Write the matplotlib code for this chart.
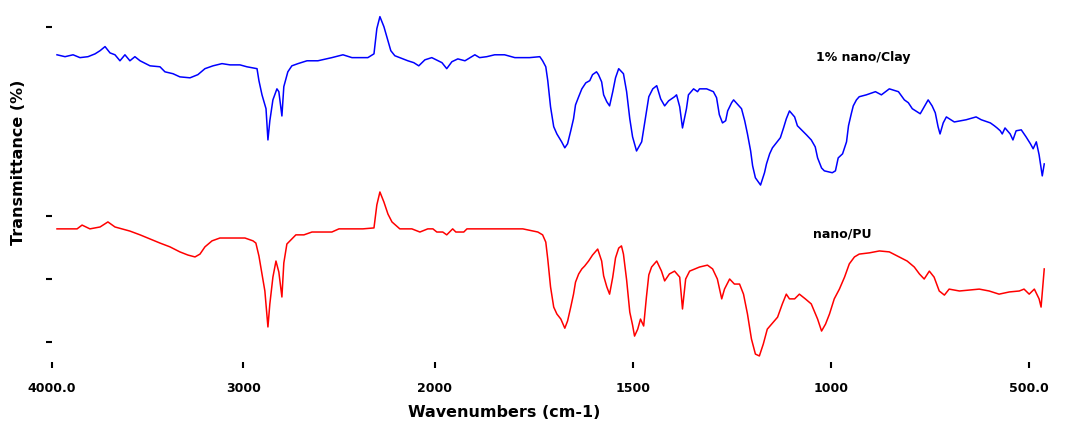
import numpy as np
import matplotlib
matplotlib.use("Agg")
import matplotlib.pyplot as plt

# FTIR spectra, wavenumber (cm-1) vs transmittance (arbitrary offset %)
wn_top = [3974, 3932, 3890, 3854, 3812, 3775, 3749, 3723, 3697, 3671, 3645, 3619, 3593, 3567, 3540,
          3488, 3436, 3410, 3368, 3332, 3279, 3238, 3201, 3159, 3112, 3070, 3018, 2982, 2929, 2919,
          2903, 2882, 2872, 2862, 2846, 2825, 2815, 2799, 2789, 2768, 2747, 2715, 2668, 2611, 2538,
          2480, 2433, 2381, 2350, 2318, 2303, 2287, 2266, 2245, 2230, 2209, 2183, 2141, 2110, 2084,
          2052, 2016, 1982, 1970, 1957, 1942, 1924, 1899, 1887, 1869, 1849, 1824, 1798, 1761, 1735,
          1728, 1720, 1715, 1708, 1700, 1692, 1680, 1672, 1665, 1657, 1650, 1645, 1637, 1629, 1619,
          1609, 1602, 1592, 1587, 1579, 1574, 1566, 1559, 1551, 1544, 1536, 1524, 1516, 1508, 1501,
          1491, 1478, 1468, 1460, 1450, 1440, 1430, 1420, 1410, 1395, 1390, 1382, 1375, 1365, 1360,
          1347, 1337, 1332, 1314, 1297, 1289, 1282, 1274, 1266, 1261, 1251, 1246, 1226, 1218, 1211,
          1203, 1198, 1191, 1178, 1168, 1163, 1155, 1148, 1128, 1120, 1113, 1105, 1092, 1085, 1062,
          1050, 1040, 1034, 1024, 1017, 997, 989, 982, 971, 961, 956, 949, 944, 936, 929,
          911, 888, 873, 853, 830, 815, 805, 795, 775, 765, 755, 745, 737, 730, 725,
          717, 709, 689, 659, 634, 621, 598, 588, 581, 573, 568, 561, 548, 541, 533,
          520, 508, 497, 490, 482, 475, 467, 462]
t_top = [91.1, 90.5, 91.1, 90.2, 90.5, 91.4, 92.4, 93.7, 91.7, 91.1, 89.2, 91.1, 89.2, 90.5, 89.2,
         87.6, 87.3, 85.7, 85.1, 84.1, 83.8, 84.8, 86.7, 87.6, 88.3, 87.9, 87.9, 87.3, 86.7, 82.9,
         78.4, 74.0, 64.1, 70.2, 76.8, 80.3, 79.4, 71.7, 81.0, 85.7, 87.6, 88.3, 89.2, 89.2, 90.2,
         91.1, 90.2, 90.2, 90.2, 91.4, 99.4, 103.2, 100.0, 95.6, 92.4, 90.8, 90.2, 89.2, 88.6, 87.6,
         89.5, 90.2, 88.6, 86.7, 88.9, 89.8, 89.2, 91.1, 90.2, 90.5, 91.1, 91.1, 90.2, 90.2, 90.5,
         89.2, 87.3, 82.9, 74.6, 68.3, 66.0, 63.5, 61.6, 62.9, 67.0, 70.8, 75.2, 77.8, 80.3, 82.2,
         82.9, 84.8, 85.7, 84.8, 82.5, 78.4, 76.2, 74.9, 79.4, 83.8, 86.7, 85.1, 79.4, 70.8, 65.1,
         60.6, 63.5, 71.4, 77.8, 80.3, 81.3, 77.1, 74.9, 76.5, 77.8, 78.4, 74.6, 67.9, 74.0, 78.4,
         80.3, 79.4, 80.3, 80.3, 79.4, 77.5, 72.1, 69.5, 70.2, 73.3, 75.9, 76.8, 74.0, 70.2, 66.0,
         60.6, 55.9, 52.1, 49.8, 53.7, 56.5, 59.7, 61.6, 64.8, 67.9, 70.8, 73.3, 71.4, 68.6, 65.7,
         64.1, 61.9, 58.4, 55.2, 54.3, 53.7, 54.3, 58.4, 59.7, 63.5, 68.6, 72.4, 74.9, 76.8, 77.8,
         78.4, 79.4, 78.4, 80.3, 79.4, 76.8, 75.9, 74.0, 72.4, 74.6, 76.8, 74.9, 72.7, 68.3, 66.0,
         69.5, 71.4, 69.8, 70.5, 71.4, 70.5, 69.5, 68.6, 67.9, 67.0, 66.0, 67.9, 66.0, 64.1, 67.0,
         67.3, 65.1, 62.9, 61.3, 63.5, 59.4, 52.7, 56.5]

wn_bot = [3974, 3932, 3869, 3843, 3802, 3749, 3708, 3671, 3634, 3593, 3540, 3488, 3436, 3384, 3332,
          3290, 3253, 3227, 3201, 3164, 3123, 3086, 3034, 2992, 2950, 2935, 2919, 2903, 2888, 2872,
          2862, 2846, 2830, 2815, 2799, 2789, 2773, 2726, 2684, 2642, 2580, 2538, 2501, 2465, 2376,
          2318, 2303, 2287, 2266, 2245, 2224, 2183, 2120, 2078, 2037, 2010, 1995, 1980, 1970, 1955,
          1947, 1927, 1919, 1894, 1869, 1839, 1813, 1778, 1740, 1728, 1720, 1715, 1708, 1700, 1692,
          1682, 1672, 1665, 1657, 1650, 1645, 1637, 1629, 1622, 1612, 1602, 1589, 1579, 1574, 1566,
          1559, 1551, 1544, 1536, 1529, 1524, 1516, 1508, 1501, 1496, 1488, 1481, 1473, 1466, 1460,
          1453, 1440, 1428, 1420, 1408, 1395, 1382, 1375, 1367, 1357, 1332, 1312, 1299, 1287, 1276,
          1269, 1256, 1244, 1231, 1221, 1211, 1201, 1191, 1181, 1171, 1161, 1150, 1135, 1123, 1113,
          1105, 1092, 1080, 1065, 1050, 1034, 1024, 1014, 1004, 992, 979, 966, 954, 941, 929,
          903, 878, 853, 828, 808, 790, 777, 765, 752, 740, 727, 714, 702, 676, 651,
          626, 601, 576, 550, 525, 513, 500, 487, 475, 470, 462]
t_bot = [35.9, 35.9, 35.9, 37.1, 35.9, 36.5, 38.1, 36.5, 35.9, 35.2, 34.0, 32.7, 31.4, 30.2, 28.6,
         27.6, 27.0, 27.9, 30.2, 32.1, 33.0, 33.0, 33.0, 33.0, 32.1, 31.4, 27.3, 21.6, 16.2, 4.8,
         12.1, 20.6, 25.7, 22.2, 14.3, 25.1, 31.1, 34.0, 34.0, 34.9, 34.9, 34.9, 35.9, 35.9, 35.9,
         36.2, 43.5, 47.6, 44.4, 40.6, 38.1, 35.9, 35.9, 34.9, 35.9, 35.9, 34.9, 34.9, 34.0, 35.9,
         34.9, 34.9, 35.9, 35.9, 35.9, 35.9, 35.9, 35.9, 34.9, 34.0, 31.7, 26.3, 17.5, 11.1, 8.9,
         7.3, 4.4, 6.7, 11.1, 15.2, 19.0, 21.6, 23.2, 24.1, 25.7, 27.6, 29.5, 25.7, 21.0, 17.5,
         15.2, 20.6, 26.7, 29.8, 30.5, 27.9, 19.7, 9.5, 5.4, 1.9, 4.1, 7.3, 5.1, 14.3, 21.3,
         23.8, 25.7, 22.5, 19.4, 21.6, 22.5, 20.6, 10.5, 20.0, 22.5, 23.8, 24.4, 23.2, 20.0, 13.7,
         16.8, 20.0, 18.4, 18.4, 15.2, 8.9, 1.0, -3.8, -4.4, -0.6, 4.1, 5.7, 7.9, 12.1, 15.2,
         13.7, 13.7, 15.2, 13.7, 12.1, 7.3, 3.5, 5.7, 8.9, 13.7, 16.8, 20.6, 24.8, 27.0, 27.9,
         28.3, 28.9, 28.6, 27.0, 25.7, 23.8, 21.6, 20.0, 22.5, 20.6, 16.2, 14.9, 16.8, 16.2, 16.5,
         16.8, 16.2, 15.2, 15.9, 16.2, 16.8, 15.2, 16.8, 13.7, 11.1, 23.2]

label_top = "1% nano/Clay"
label_bot = "nano/PU"

xticks = [4000, 3000, 2000, 1500, 1000, 500]
xtick_labels = ["4000.0", "3000", "2000", "1500", "1000", "500.0"]
yticks = [0, 20, 40, 100]

STRETCH = 2.07  # the region below 2000 cm-1 is drawn expanded


def fwd(w):
    w = np.asarray(w, dtype=float)
    return np.where(w >= 2000, w, 2000 + STRETCH * (w - 2000))


def inv(u):
    u = np.asarray(u, dtype=float)
    return np.where(u >= 2000, u, 2000 + (u - 2000) / STRETCH)


fig = plt.figure(figsize=(10.68, 4.27), dpi=100)
ax = fig.add_axes([0.0487, 0.150, 0.9298, 0.822])
ax.set_xscale('function', functions=(fwd, inv))

ax.plot(wn_top, t_top, color='#0000ff', lw=1.1)
ax.plot(wn_bot, t_bot, color='#ff0000', lw=1.1)

ax.set_xlim(4000, 460)
ax.set_ylim(-6.3, 105)

ax.set_xticks(xticks)
ax.set_xticklabels(xtick_labels, fontsize=9, fontweight='bold')
ax.set_yticks(yticks)
ax.set_yticklabels([])
ax.minorticks_off()
ax.tick_params(axis='both', direction='out', length=4, width=1.5, color='black')
ax.tick_params(axis='x', pad=10)

for s in ax.spines.values():
    s.set_visible(False)

ax.text(918, 90.5, label_top, fontsize=9, fontweight='bold', ha='center', va='center')
ax.text(972, 34.6, label_bot, fontsize=9, fontweight='bold', ha='center', va='center')

fig.text(0.472, 0.035, "Wavenumbers (cm-1)", fontsize=11.5, fontweight='bold',
         ha='center', va='center')
fig.text(0.017, 0.62, "Transmittance (%)", fontsize=11.5, fontweight='bold',
         ha='center', va='center', rotation=90)

fig.savefig("out.png", dpi=100)
